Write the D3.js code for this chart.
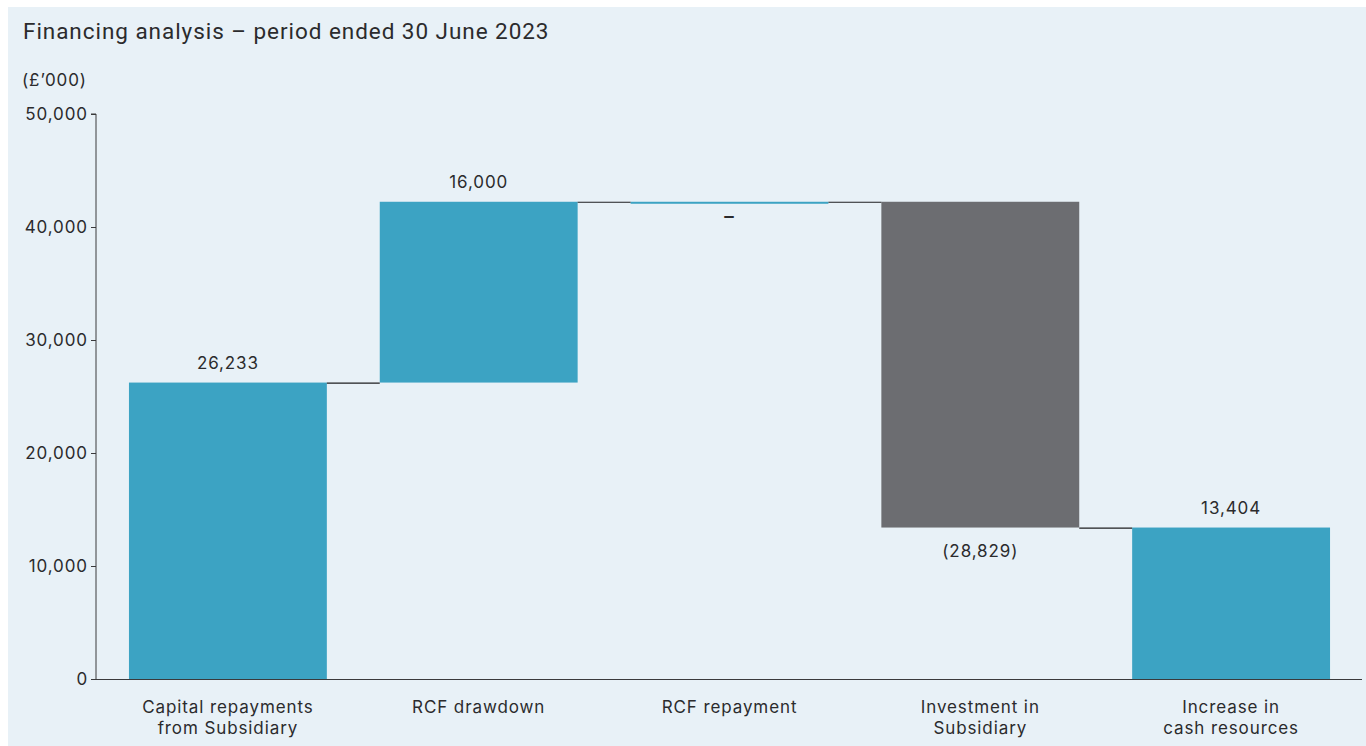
<!DOCTYPE html>
<html><head><meta charset="utf-8">
<script src="https://cdn.jsdelivr.net/npm/d3@7/dist/d3.min.js"></script>
<style>
html,body{margin:0;padding:0;background:#fff;}
svg{display:block;}
text{fill:#2b2b2d;}
</style></head>
<body>
<svg id="chart" width="1366" height="746"></svg>
<script>
const categories = [["Capital repayments","from Subsidiary"],["RCF drawdown"],["RCF repayment"],["Investment in","Subsidiary"],["Increase in","cash resources"]];
const values = [26233, 16000, 0, -28829, 13404];
const valueLabels = ["26,233","16,000","–","(28,829)","13,404"];
const isTotal = [false,false,false,false,true];
const yTicks = [0,10000,20000,30000,40000,50000];
const yTickLabels = ["0","10,000","20,000","30,000","40,000","50,000"];

const svg = d3.select("#chart");
const W = 1366, H = 746;
const font = "Inter, 'Noto Sans', sans-serif";
const fs = 17, ls = 0.9;

svg.append("rect").attr("x",8).attr("y",7).attr("width",W-8).attr("height",H-7).attr("fill","#e8f1f7");

svg.append("text").attr("x",23).attr("y",38.5).attr("font-family","Roboto, sans-serif").attr("font-size",22.5)
  .attr("letter-spacing",0.95)
  .text("Financing analysis – period ended 30 June 2023");
svg.append("text").attr("x",22).attr("y",86).attr("font-family",font).attr("font-size",fs).attr("letter-spacing",ls)
  .text("(£’000)");

const x0 = 96, yBase = 679, yTop = 114;
const y = d3.scaleLinear().domain([0,50000]).range([yBase,yTop]);
const x = d3.scaleBand().domain(d3.range(values.length)).range([102.5,1356.5]).paddingInner(0.211).paddingOuter(0.1055);

// compute waterfall
let run = 0;
const bars = values.map((v,i)=>{
  let start, end;
  if (isTotal[i]) { start = 0; end = v; run = v; }
  else { start = run; end = run + v; run = end; }
  return {i, v, start, end};
});

// y axis
const yAxis = d3.axisLeft(y).tickValues(yTicks).tickFormat((d,i)=>yTickLabels[i]).tickSize(5).tickPadding(3);
const gy = svg.append("g").attr("transform",`translate(${x0},0)`).call(yAxis);
gy.select(".domain").attr("stroke","#3a3a3c").attr("d",`M-5,${yTop}H0V${yBase}`);
gy.selectAll(".tick line").attr("stroke","#3a3a3c");
gy.selectAll(".tick text").attr("font-family",font).attr("font-size",fs).attr("letter-spacing",ls).attr("fill","#2b2b2d").attr("dy","0.35em");

// bars
const g = svg.append("g");
bars.forEach(b=>{
  const top = y(Math.max(b.start,b.end)), bot = y(Math.min(b.start,b.end));
  const h = Math.max(2, bot-top);
  g.append("rect").attr("x",x(b.i)).attr("y",b.v===0? top : top).attr("width",x.bandwidth()).attr("height",h)
    .attr("fill", b.v<0 ? "#6c6d71" : "#3ca3c3");
});

// connectors
for (let i=0;i<bars.length-1;i++){
  const lvl = bars[i].end;
  g.append("line").attr("x1",x(i)+x.bandwidth()).attr("x2",x(i+1)).attr("y1",y(lvl)+0.5).attr("y2",y(lvl)+0.5)
    .attr("stroke","#1e1e20").attr("stroke-width",1.2);
}

// x axis
svg.append("line").attr("x1",x0).attr("x2",1362).attr("y1",yBase+0.5).attr("y2",yBase+0.5).attr("stroke","#3a3a3c").attr("stroke-width",1.2);

// value labels
bars.forEach(b=>{
  const cx = x(b.i)+x.bandwidth()/2;
  let ty;
  if (b.v>0) ty = y(b.end)-14;
  else if (b.v<0) ty = y(b.end)+29;
  else ty = y(b.end)+21;
  svg.append("text").attr("x",cx).attr("y",ty).attr("text-anchor","middle").attr("font-family",font)
    .attr("font-size", b.v===0 ? 19 : fs).attr("letter-spacing",ls).attr("font-weight", b.v===0 ? 600 : 400)
    .text(valueLabels[b.i]);
});

// category labels
categories.forEach((lines,i)=>{
  const cx = x(i)+x.bandwidth()/2;
  const t = svg.append("text").attr("text-anchor","middle").attr("font-family",font).attr("font-size",fs).attr("letter-spacing",ls);
  lines.forEach((l,j)=>{
    t.append("tspan").attr("x",cx).attr("y",713+j*21).text(l);
  });
});
</script>
</body></html>
